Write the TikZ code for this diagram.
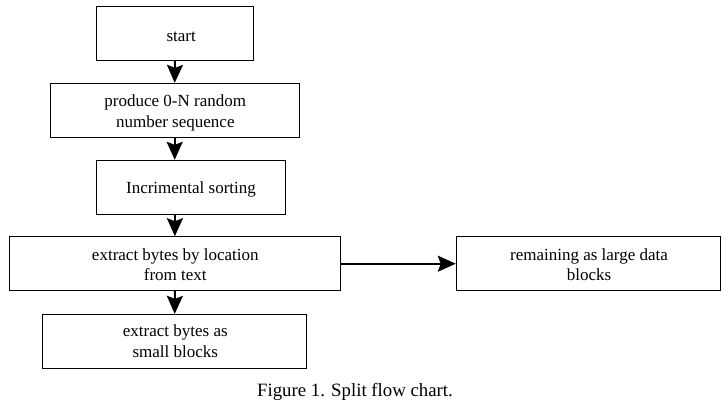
\documentclass[tikz,border=0pt]{standalone}
\usepackage{fontspec}
\setmainfont{Liberation Serif}
\usetikzlibrary{arrows.meta}

\begin{document}
\begin{tikzpicture}[x=1pt,y=-1pt,
  stepbox/.style={draw=black, line width=1pt, fill=white, inner sep=0pt},
  steptext/.style={anchor=base, inner sep=0pt, align=center,
    font=\fontsize{17}{20.6}\selectfont},
  flow/.style={line width=2pt, -{Stealth[length=18pt,width=16pt,inset=3pt]}}]
  \useasboundingbox[fill=white] (0,0) rectangle (728,400);

  % process boxes
  \node[stepbox, minimum width=156.6pt, minimum height=54.3pt] (start) at (175,33.2) {};
  \node[stepbox, minimum width=249.3pt, minimum height=53.7pt] (produce) at (174.7,110.2) {};
  \node[stepbox, minimum width=188.6pt, minimum height=53.7pt] (sort) at (191,187.2) {};
  \node[stepbox, minimum width=331.7pt, minimum height=54pt] (extract) at (174.9,263.7) {};
  \node[stepbox, minimum width=264.4pt, minimum height=54pt] (remain) at (588.5,263.7) {};
  \node[stepbox, minimum width=264pt, minimum height=53.7pt] (small) at (174.7,341.2) {};

  % box texts, placed by their last baseline
  \node[steptext] (start-t) at (181.2,41.7) {start};
  \node[steptext] (produce-t) at (175.3,127.3) {produce 0-N random\\number sequence};
  \node[steptext] (sort-t) at (191,193.3) {Incrimental sorting};
  \node[steptext] (extract-t) at (175.3,280.7) {extract bytes by location\\from text};
  \node[steptext] (remain-t) at (589,280.7) {remaining as large data\\blocks};
  \node[steptext] (small-t) at (175.3,357.3) {extract bytes as\\small blocks};

  % connectors
  \draw[flow] (start.south) -- (produce.north);
  \draw[flow] (produce.south) -- (produce.south |- sort.north);
  \draw[flow] (sort.south -| extract.north) -- (extract.north);
  \draw[flow] (extract.south) -- (small.north);
  \draw[flow] (extract.east) -- (remain.west);

  % caption
  \node[anchor=base, inner sep=0pt, font=\fontsize{18.8}{22}\selectfont] (caption) at (355,396.7)
    {Figure 1. Split flow chart.};
\end{tikzpicture}
\end{document}
